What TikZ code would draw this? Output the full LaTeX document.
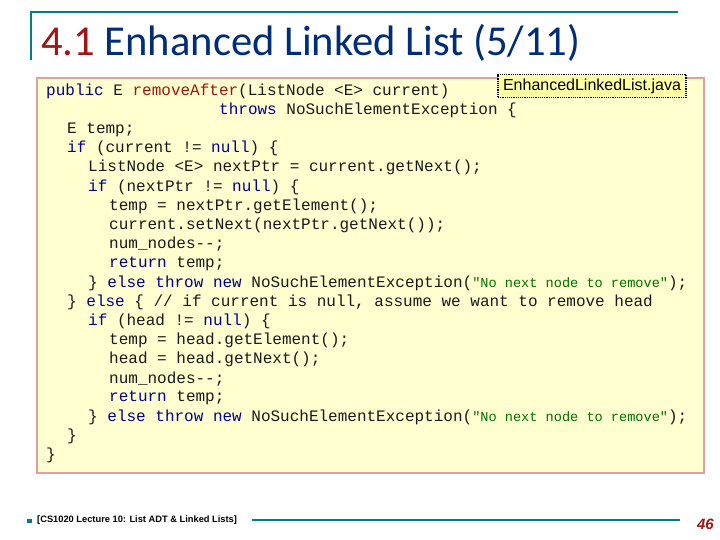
\documentclass[tikz,border=0pt]{standalone}
\usepackage{fontspec}
\setmainfont{Carlito}
\setmonofont{Liberation Mono}
\newfontfamily\arialf{Liberation Sans}
\definecolor{teal1}{RGB}{0,128,128}
\definecolor{tblue}{RGB}{0,45,120}
\definecolor{tred}{RGB}{160,20,20}
\definecolor{kwc}{RGB}{0,0,140}
\definecolor{strc}{RGB}{0,110,0}
\definecolor{boxfill}{RGB}{255,255,208}
\definecolor{boxedge}{RGB}{228,160,160}
\newcommand{\kw}[1]{\textcolor{kwc}{#1}}
\newcommand{\fn}[1]{\textcolor{tred}{#1}}
\newcommand{\strg}[1]{\textcolor{strc}{\fontsize{13.6}{14}\selectfont #1}}
\tikzset{codeline/.style={anchor=west,inner sep=0pt,font=\ttfamily\fontsize{16}{18}\selectfont,text=black!90}}
\begin{document}
\begin{tikzpicture}[x=1pt,y=-1pt]
\useasboundingbox (0,0) rectangle (720,540);
\fill[white] (0,0) rectangle (720,540);
% title bar
\draw[teal1,line width=2pt] (30,12) -- (678,12);
\draw[teal1,line width=2pt] (31,12) -- (31,60);
\node[anchor=west,inner sep=0pt,font=\fontsize{42.6}{46}\selectfont] (title) at (41,43) {\textcolor{tred}{4.1} \textcolor{tblue}{Enhanced Linked List (5/11)}};
% code box
\draw[boxedge,fill=boxfill,line width=2.5pt] (37,78) rectangle (704,473);
\node[draw=black,densely dotted,line width=1.2pt,fill=boxfill!80!yellow,inner xsep=5pt,inner ysep=4pt,font=\arialf\fontsize{16}{18}\selectfont,anchor=center] (fname) at (592,86) {EnhancedLinkedList.java};
\node[codeline] (l1) at (46,91) {\kw{public} E \fn{removeAfter}(ListNode <E> current)};
\node[codeline] (l2) at (219,110.2) {\kw{throws} NoSuchElementException \{};
\node[codeline] (l3) at (67,129.4) {E temp;};
\node[codeline] (l4) at (67,148.6) {\kw{if} (current != \kw{null}) \{};
\node[codeline] (l5) at (88,167.8) {ListNode <E> nextPtr = current.getNext();};
\node[codeline] (l6) at (88,187) {\kw{if} (nextPtr != \kw{null}) \{};
\node[codeline] (l7) at (109,206.2) {temp = nextPtr.getElement();};
\node[codeline] (l8) at (109,225.4) {current.setNext(nextPtr.getNext());};
\node[codeline] (l9) at (109,244.6) {num\_nodes--;};
\node[codeline] (l10) at (109,263.8) {\kw{return} temp;};
\node[codeline] (l11) at (88,283) {\} \kw{else throw new} NoSuchElementException(\strg{"No next node to remove"});};
\node[codeline] (l12) at (67,302.2) {\} \kw{else} \{ // if current is null, assume we want to remove head};
\node[codeline] (l13) at (88,321.4) {\kw{if} (head != \kw{null}) \{};
\node[codeline] (l14) at (109,340.6) {temp = head.getElement();};
\node[codeline] (l15) at (109,359.8) {head = head.getNext();};
\node[codeline] (l16) at (109,379) {num\_nodes--;};
\node[codeline] (l17) at (109,398.2) {\kw{return} temp;};
\node[codeline] (l18) at (88,417.4) {\} \kw{else throw new} NoSuchElementException(\strg{"No next node to remove"});};
\node[codeline] (l19) at (67,436.6) {\}};
\node[codeline] (l20) at (46,455.8) {\}};
% footer
\fill[teal1] (27,518.5) rectangle (32,522.5);
\node[anchor=west,inner sep=0pt,font=\arialf\bfseries\fontsize{9.3}{10}\selectfont] (foot) at (37,520) {[CS1020 Lecture 10: List ADT \& Linked Lists]};
\draw[teal1,line width=2.5pt] (252,520) -- (680,520);
\node[anchor=east,inner sep=0pt,font=\arialf\bfseries\itshape\fontsize{15}{17}\selectfont,text=tred] (pg) at (714,524) {46};
\end{tikzpicture}
\end{document}
